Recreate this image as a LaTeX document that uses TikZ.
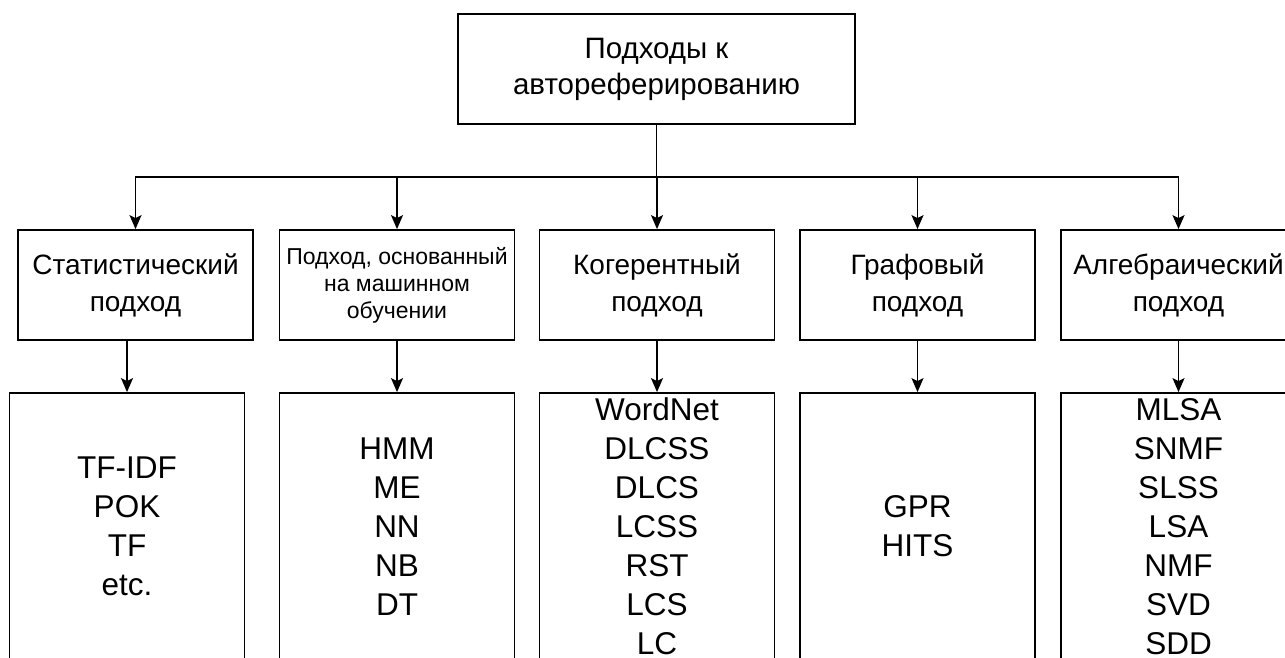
\documentclass[tikz,border=0pt]{standalone}
\usepackage{fontspec}
\setmainfont{Liberation Sans}
\usetikzlibrary{arrows.meta}

\begin{document}
\begin{tikzpicture}[x=1pt,y=-1pt,
  rootbox/.style={draw,line width=1.8pt,minimum width=397pt,minimum height=110pt,
    inner sep=0pt,align=center,font=\fontsize{29.5}{36}\selectfont},
  kindbox/.style={draw,line width=1.8pt,minimum width=235pt,minimum height=110pt,
    inner sep=0pt,align=center,font=\fontsize{28}{37}\selectfont},
  listbox/.style={draw,line width=1.8pt,minimum width=235pt,minimum height=267pt,
    inner sep=0pt,align=center,font=\fontsize{31.5}{39}\selectfont},
  arr/.style={-{Stealth[length=14pt,width=12pt,inset=3pt]},line width=1.8pt}]
  \useasboundingbox (0,0) rectangle (1285,658);
  \clip (0,0) rectangle (1285,658);
  \node[rootbox] (root) at (656.5,69) {Подходы к\\ автореферированию};
  \node[kindbox] (stat) at (135.5,285) {Статистический\\ подход};
  \node[kindbox,font=\fontsize{23}{27}\selectfont] (ml) at (397,285)
    {Подход, основанный\\ на машинном\\ обучении};
  \node[kindbox] (coh) at (657,285) {Когерентный\\ подход};
  \node[kindbox] (graph) at (917.5,285) {Графовый\\ подход};
  \node[kindbox] (alg) at (1178.5,285) {Алгебраический\\ подход};
  \node[listbox] (statl) at (127,526.5) {TF-IDF\\ POK\\ TF\\ etc.};
  \node[listbox] (mll) at (397,526.5) {HMM\\ ME\\ NN\\ NB\\ DT};
  \node[listbox] (cohl) at (657,526.5)
    {WordNet\\ DLCSS\\ DLCS\\ LCSS\\ RST\\ LCS\\ LC};
  \node[listbox] (graphl) at (917.5,526.5) {GPR\\ HITS};
  \node[listbox] (algl) at (1178.5,526.5)
    {MLSA\\ SNMF\\ SLSS\\ LSA\\ NMF\\ SVD\\ SDD};
  \coordinate (bar) at (657,177);
  \foreach \n in {stat,ml,coh,graph,alg}
    \draw[arr] (root.south) |- (bar -| \n) -- (\n.north);
  \foreach \a/\b in {stat/statl,ml/mll,coh/cohl,graph/graphl,alg/algl}
    \draw[arr] (\a.south -| \b.north) -- (\b.north);
\end{tikzpicture}
\end{document}
